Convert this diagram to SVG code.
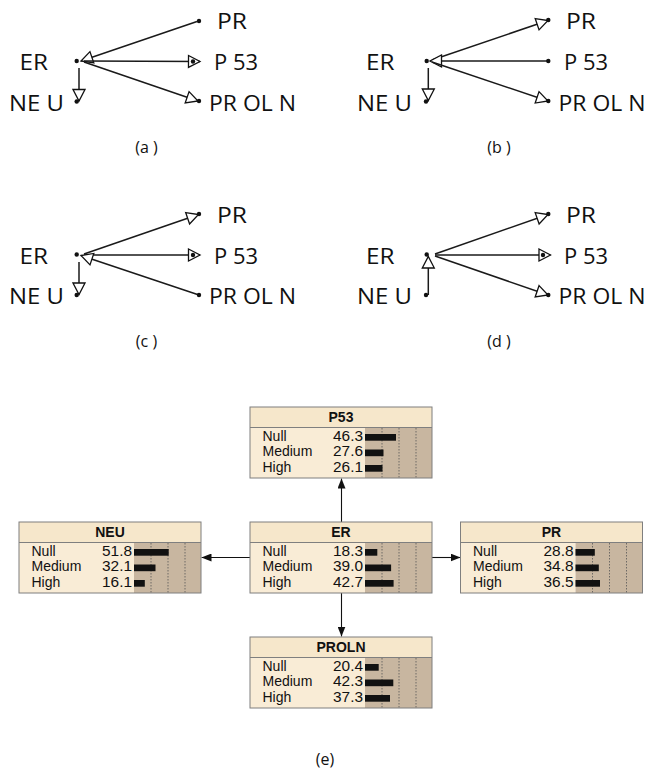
<svg xmlns="http://www.w3.org/2000/svg" width="648" height="771" viewBox="0 0 648 771">
<style>
.pl{font-family:"Open Sans","DejaVu Sans",sans-serif;font-size:21px;fill:#111}
.cap{font-family:"Open Sans","DejaVu Sans",sans-serif;font-size:16px;fill:#111;text-anchor:middle}
.dot{fill:#111}
.e{stroke:#1a1a1a;stroke-width:1.5;fill:none}
.ea{stroke:#111;stroke-width:1.1;fill:none}
.title{fill:#f6e7cb}
.body{fill:#f9ecd6}
.bars{fill:#c8b6a0}
.grid{stroke:#555;stroke-width:0.8;stroke-dasharray:1.5 1.5}
.frame{fill:none;stroke:#7f7f7f;stroke-width:1}
.sep{stroke:#7f7f7f;stroke-width:1}
.ttl{font-family:"Liberation Sans",Arial,sans-serif;font-size:14px;font-weight:bold;text-anchor:middle;fill:#111}
.lbl{font-family:"Liberation Sans",Arial,sans-serif;font-size:14px;fill:#111}
.val{font-family:"Liberation Sans",Arial,sans-serif;font-size:14px;fill:#111;text-anchor:end}
.bar{fill:#111}
</style>
<defs>
<marker id="open" markerUnits="userSpaceOnUse" markerWidth="15" markerHeight="15" viewBox="0 0 15 15" refX="13" refY="7.5" orient="auto">
<path d="M1.5,1.5 L13,7.5 L1.5,13.5 Z" fill="#fff" stroke="#111" stroke-width="1.3"/>
</marker>
<marker id="solid" markerUnits="userSpaceOnUse" markerWidth="10" markerHeight="8" viewBox="0 0 10 8" refX="10" refY="4" orient="auto">
<path d="M0,0 L10,4 L0,8 Z" fill="#111"/>
</marker>
</defs>

<g id="connectors">
<line class="e" x1="197" y1="21.5" x2="81" y2="61" marker-end="url(#open)"/>
<line class="e" x1="84" y1="61" x2="200" y2="61.5" marker-end="url(#open)"/>
<line class="e" x1="84" y1="62" x2="198" y2="101" marker-end="url(#open)"/>
<line class="e" x1="79" y1="68" x2="79" y2="101" marker-end="url(#open)"/>
<line class="e" x1="432" y1="60" x2="548" y2="20.5" marker-end="url(#open)"/>
<line class="e" x1="548" y1="61" x2="430" y2="61" marker-end="url(#open)"/>
<line class="e" x1="432" y1="62" x2="548" y2="101" marker-end="url(#open)"/>
<line class="e" x1="428.3" y1="68" x2="428.3" y2="100.5" marker-end="url(#open)"/>
<line class="e" x1="84" y1="254" x2="198.5" y2="214.5" marker-end="url(#open)"/>
<line class="e" x1="84" y1="255" x2="200" y2="255" marker-end="url(#open)"/>
<line class="e" x1="199" y1="295" x2="81" y2="255.5" marker-end="url(#open)"/>
<line class="e" x1="79" y1="262" x2="79" y2="294.5" marker-end="url(#open)"/>
<line class="e" x1="435" y1="254" x2="548" y2="214.5" marker-end="url(#open)"/>
<line class="e" x1="435" y1="255" x2="550.5" y2="255" marker-end="url(#open)"/>
<line class="e" x1="435" y1="256" x2="548" y2="295" marker-end="url(#open)"/>
<line class="e" x1="428.3" y1="295" x2="428.3" y2="256.5" marker-end="url(#open)"/>
<line class="ea" x1="341.5" y1="522" x2="341.5" y2="478.5" marker-end="url(#solid)"/>
<line class="ea" x1="250" y1="557.5" x2="201.5" y2="557.5" marker-end="url(#solid)"/>
<line class="ea" x1="432" y1="557.5" x2="460.5" y2="557.5" marker-end="url(#solid)"/>
<line class="ea" x1="341.5" y1="593" x2="341.5" y2="636.5" marker-end="url(#solid)"/>
</g>

<g id="a-ER"><circle class="dot" cx="76.7" cy="61" r="2.2"/><text class="pl" x="19.5" y="70" textLength="28.5" lengthAdjust="spacingAndGlyphs">ER</text></g>
<g id="a-PR"><circle class="dot" cx="199" cy="21" r="2.2"/><text class="pl" x="217" y="29" textLength="30" lengthAdjust="spacingAndGlyphs">PR</text></g>
<g id="a-P53"><circle class="dot" cx="193" cy="61.5" r="2.2"/><text class="pl" x="214" y="70" textLength="44" lengthAdjust="spacingAndGlyphs">P 53</text></g>
<g id="a-PROLN"><circle class="dot" cx="199" cy="101" r="2.2"/><text class="pl" x="209" y="111" textLength="87" lengthAdjust="spacingAndGlyphs">PR OL N</text></g>
<g id="a-NEU"><circle class="dot" cx="76.7" cy="101.5" r="2.2"/><text class="pl" x="9" y="111" textLength="55" lengthAdjust="spacingAndGlyphs">NE U</text></g>
<text class="cap" x="146.5" y="153">(a )</text>

<g id="b-ER"><circle class="dot" cx="426.7" cy="61" r="2.2"/><text class="pl" x="366" y="70" textLength="28.5" lengthAdjust="spacingAndGlyphs">ER</text></g>
<g id="b-PR"><circle class="dot" cx="548.3" cy="20" r="2.2"/><text class="pl" x="566" y="29" textLength="30" lengthAdjust="spacingAndGlyphs">PR</text></g>
<g id="b-P53"><circle class="dot" cx="548.3" cy="61" r="2.2"/><text class="pl" x="564" y="70" textLength="44" lengthAdjust="spacingAndGlyphs">P 53</text></g>
<g id="b-PROLN"><circle class="dot" cx="548.3" cy="101" r="2.2"/><text class="pl" x="558.5" y="111" textLength="87" lengthAdjust="spacingAndGlyphs">PR OL N</text></g>
<g id="b-NEU"><circle class="dot" cx="426" cy="101.5" r="2.2"/><text class="pl" x="357" y="111" textLength="55" lengthAdjust="spacingAndGlyphs">NE U</text></g>
<text class="cap" x="499" y="153">(b )</text>

<g id="c-ER"><circle class="dot" cx="76.7" cy="254.5" r="2.2"/><text class="pl" x="19.5" y="264" textLength="28.5" lengthAdjust="spacingAndGlyphs">ER</text></g>
<g id="c-PR"><circle class="dot" cx="199" cy="214" r="2.2"/><text class="pl" x="217" y="223" textLength="30" lengthAdjust="spacingAndGlyphs">PR</text></g>
<g id="c-P53"><circle class="dot" cx="193" cy="255" r="2.2"/><text class="pl" x="214" y="264" textLength="44" lengthAdjust="spacingAndGlyphs">P 53</text></g>
<g id="c-PROLN"><circle class="dot" cx="199" cy="295" r="2.2"/><text class="pl" x="209" y="304" textLength="87" lengthAdjust="spacingAndGlyphs">PR OL N</text></g>
<g id="c-NEU"><circle class="dot" cx="76.7" cy="295" r="2.2"/><text class="pl" x="9" y="304" textLength="55" lengthAdjust="spacingAndGlyphs">NE U</text></g>
<text class="cap" x="146.5" y="347">(c )</text>

<g id="d-ER"><circle class="dot" cx="426.7" cy="254.5" r="2.2"/><text class="pl" x="366" y="264" textLength="28.5" lengthAdjust="spacingAndGlyphs">ER</text></g>
<g id="d-PR"><circle class="dot" cx="548.3" cy="214" r="2.2"/><text class="pl" x="566" y="223" textLength="30" lengthAdjust="spacingAndGlyphs">PR</text></g>
<g id="d-P53"><circle class="dot" cx="543" cy="255" r="2.2"/><text class="pl" x="564" y="264" textLength="44" lengthAdjust="spacingAndGlyphs">P 53</text></g>
<g id="d-PROLN"><circle class="dot" cx="548.3" cy="295" r="2.2"/><text class="pl" x="558.5" y="304" textLength="87" lengthAdjust="spacingAndGlyphs">PR OL N</text></g>
<g id="d-NEU"><circle class="dot" cx="426" cy="295" r="2.2"/><text class="pl" x="357" y="304" textLength="55" lengthAdjust="spacingAndGlyphs">NE U</text></g>
<text class="cap" x="499" y="347">(d )</text>

<g id="P53" transform="translate(250,407)">
<rect class="title" width="182" height="20.5"/><rect class="body" y="20.5" width="115" height="50.5"/><rect class="bars" x="115" y="20.5" width="67" height="50.5"/>
<line class="grid" x1="132" y1="21" x2="132" y2="71"/><line class="grid" x1="149" y1="21" x2="149" y2="71"/><line class="grid" x1="166" y1="21" x2="166" y2="71"/>
<rect class="bar" x="115" y="27" width="31" height="6.7"/><rect class="bar" x="115" y="42.5" width="18.5" height="6.7"/><rect class="bar" x="115" y="58" width="17.5" height="6.7"/>
<rect class="frame" width="182" height="71"/><line class="sep" x1="0" y1="20.5" x2="182" y2="20.5"/>
<text class="ttl" x="91" y="15">P53</text>
<text class="lbl" x="12.5" y="33.7">Null</text><text class="val" x="113" y="33.7" textLength="30" lengthAdjust="spacingAndGlyphs">46.3</text>
<text class="lbl" x="12.5" y="49.2">Medium</text><text class="val" x="113" y="49.2" textLength="30" lengthAdjust="spacingAndGlyphs">27.6</text>
<text class="lbl" x="12.5" y="64.7">High</text><text class="val" x="113" y="64.7" textLength="30" lengthAdjust="spacingAndGlyphs">26.1</text>
</g>
<g id="NEU" transform="translate(19,522)">
<rect class="title" width="182" height="20.5"/><rect class="body" y="20.5" width="115" height="50.5"/><rect class="bars" x="115" y="20.5" width="67" height="50.5"/>
<line class="grid" x1="132" y1="21" x2="132" y2="71"/><line class="grid" x1="149" y1="21" x2="149" y2="71"/><line class="grid" x1="166" y1="21" x2="166" y2="71"/>
<rect class="bar" x="115" y="27" width="34.7" height="6.7"/><rect class="bar" x="115" y="42.5" width="21.5" height="6.7"/><rect class="bar" x="115" y="58" width="10.8" height="6.7"/>
<rect class="frame" width="182" height="71"/><line class="sep" x1="0" y1="20.5" x2="182" y2="20.5"/>
<text class="ttl" x="91" y="15">NEU</text>
<text class="lbl" x="12.5" y="33.7">Null</text><text class="val" x="113" y="33.7" textLength="30" lengthAdjust="spacingAndGlyphs">51.8</text>
<text class="lbl" x="12.5" y="49.2">Medium</text><text class="val" x="113" y="49.2" textLength="30" lengthAdjust="spacingAndGlyphs">32.1</text>
<text class="lbl" x="12.5" y="64.7">High</text><text class="val" x="113" y="64.7" textLength="30" lengthAdjust="spacingAndGlyphs">16.1</text>
</g>
<g id="ER" transform="translate(250,522)">
<rect class="title" width="182" height="20.5"/><rect class="body" y="20.5" width="115" height="50.5"/><rect class="bars" x="115" y="20.5" width="67" height="50.5"/>
<line class="grid" x1="132" y1="21" x2="132" y2="71"/><line class="grid" x1="149" y1="21" x2="149" y2="71"/><line class="grid" x1="166" y1="21" x2="166" y2="71"/>
<rect class="bar" x="115" y="27" width="12.3" height="6.7"/><rect class="bar" x="115" y="42.5" width="26.1" height="6.7"/><rect class="bar" x="115" y="58" width="28.6" height="6.7"/>
<rect class="frame" width="182" height="71"/><line class="sep" x1="0" y1="20.5" x2="182" y2="20.5"/>
<text class="ttl" x="91" y="15">ER</text>
<text class="lbl" x="12.5" y="33.7">Null</text><text class="val" x="113" y="33.7" textLength="30" lengthAdjust="spacingAndGlyphs">18.3</text>
<text class="lbl" x="12.5" y="49.2">Medium</text><text class="val" x="113" y="49.2" textLength="30" lengthAdjust="spacingAndGlyphs">39.0</text>
<text class="lbl" x="12.5" y="64.7">High</text><text class="val" x="113" y="64.7" textLength="30" lengthAdjust="spacingAndGlyphs">42.7</text>
</g>
<g id="PR" transform="translate(460.5,522)">
<rect class="title" width="182" height="20.5"/><rect class="body" y="20.5" width="115" height="50.5"/><rect class="bars" x="115" y="20.5" width="67" height="50.5"/>
<line class="grid" x1="132" y1="21" x2="132" y2="71"/><line class="grid" x1="149" y1="21" x2="149" y2="71"/><line class="grid" x1="166" y1="21" x2="166" y2="71"/>
<rect class="bar" x="115" y="27" width="19.3" height="6.7"/><rect class="bar" x="115" y="42.5" width="23.3" height="6.7"/><rect class="bar" x="115" y="58" width="24.5" height="6.7"/>
<rect class="frame" width="182" height="71"/><line class="sep" x1="0" y1="20.5" x2="182" y2="20.5"/>
<text class="ttl" x="91" y="15">PR</text>
<text class="lbl" x="12.5" y="33.7">Null</text><text class="val" x="113" y="33.7" textLength="30" lengthAdjust="spacingAndGlyphs">28.8</text>
<text class="lbl" x="12.5" y="49.2">Medium</text><text class="val" x="113" y="49.2" textLength="30" lengthAdjust="spacingAndGlyphs">34.8</text>
<text class="lbl" x="12.5" y="64.7">High</text><text class="val" x="113" y="64.7" textLength="30" lengthAdjust="spacingAndGlyphs">36.5</text>
</g>
<g id="PROLN" transform="translate(250,637)">
<rect class="title" width="182" height="20.5"/><rect class="body" y="20.5" width="115" height="50.5"/><rect class="bars" x="115" y="20.5" width="67" height="50.5"/>
<line class="grid" x1="132" y1="21" x2="132" y2="71"/><line class="grid" x1="149" y1="21" x2="149" y2="71"/><line class="grid" x1="166" y1="21" x2="166" y2="71"/>
<rect class="bar" x="115" y="27" width="13.7" height="6.7"/><rect class="bar" x="115" y="42.5" width="28.3" height="6.7"/><rect class="bar" x="115" y="58" width="25" height="6.7"/>
<rect class="frame" width="182" height="71"/><line class="sep" x1="0" y1="20.5" x2="182" y2="20.5"/>
<text class="ttl" x="91" y="15">PROLN</text>
<text class="lbl" x="12.5" y="33.7">Null</text><text class="val" x="113" y="33.7" textLength="30" lengthAdjust="spacingAndGlyphs">20.4</text>
<text class="lbl" x="12.5" y="49.2">Medium</text><text class="val" x="113" y="49.2" textLength="30" lengthAdjust="spacingAndGlyphs">42.3</text>
<text class="lbl" x="12.5" y="64.7">High</text><text class="val" x="113" y="64.7" textLength="30" lengthAdjust="spacingAndGlyphs">37.3</text>
</g>
<text class="cap" x="325" y="765">(e)</text>
</svg>
